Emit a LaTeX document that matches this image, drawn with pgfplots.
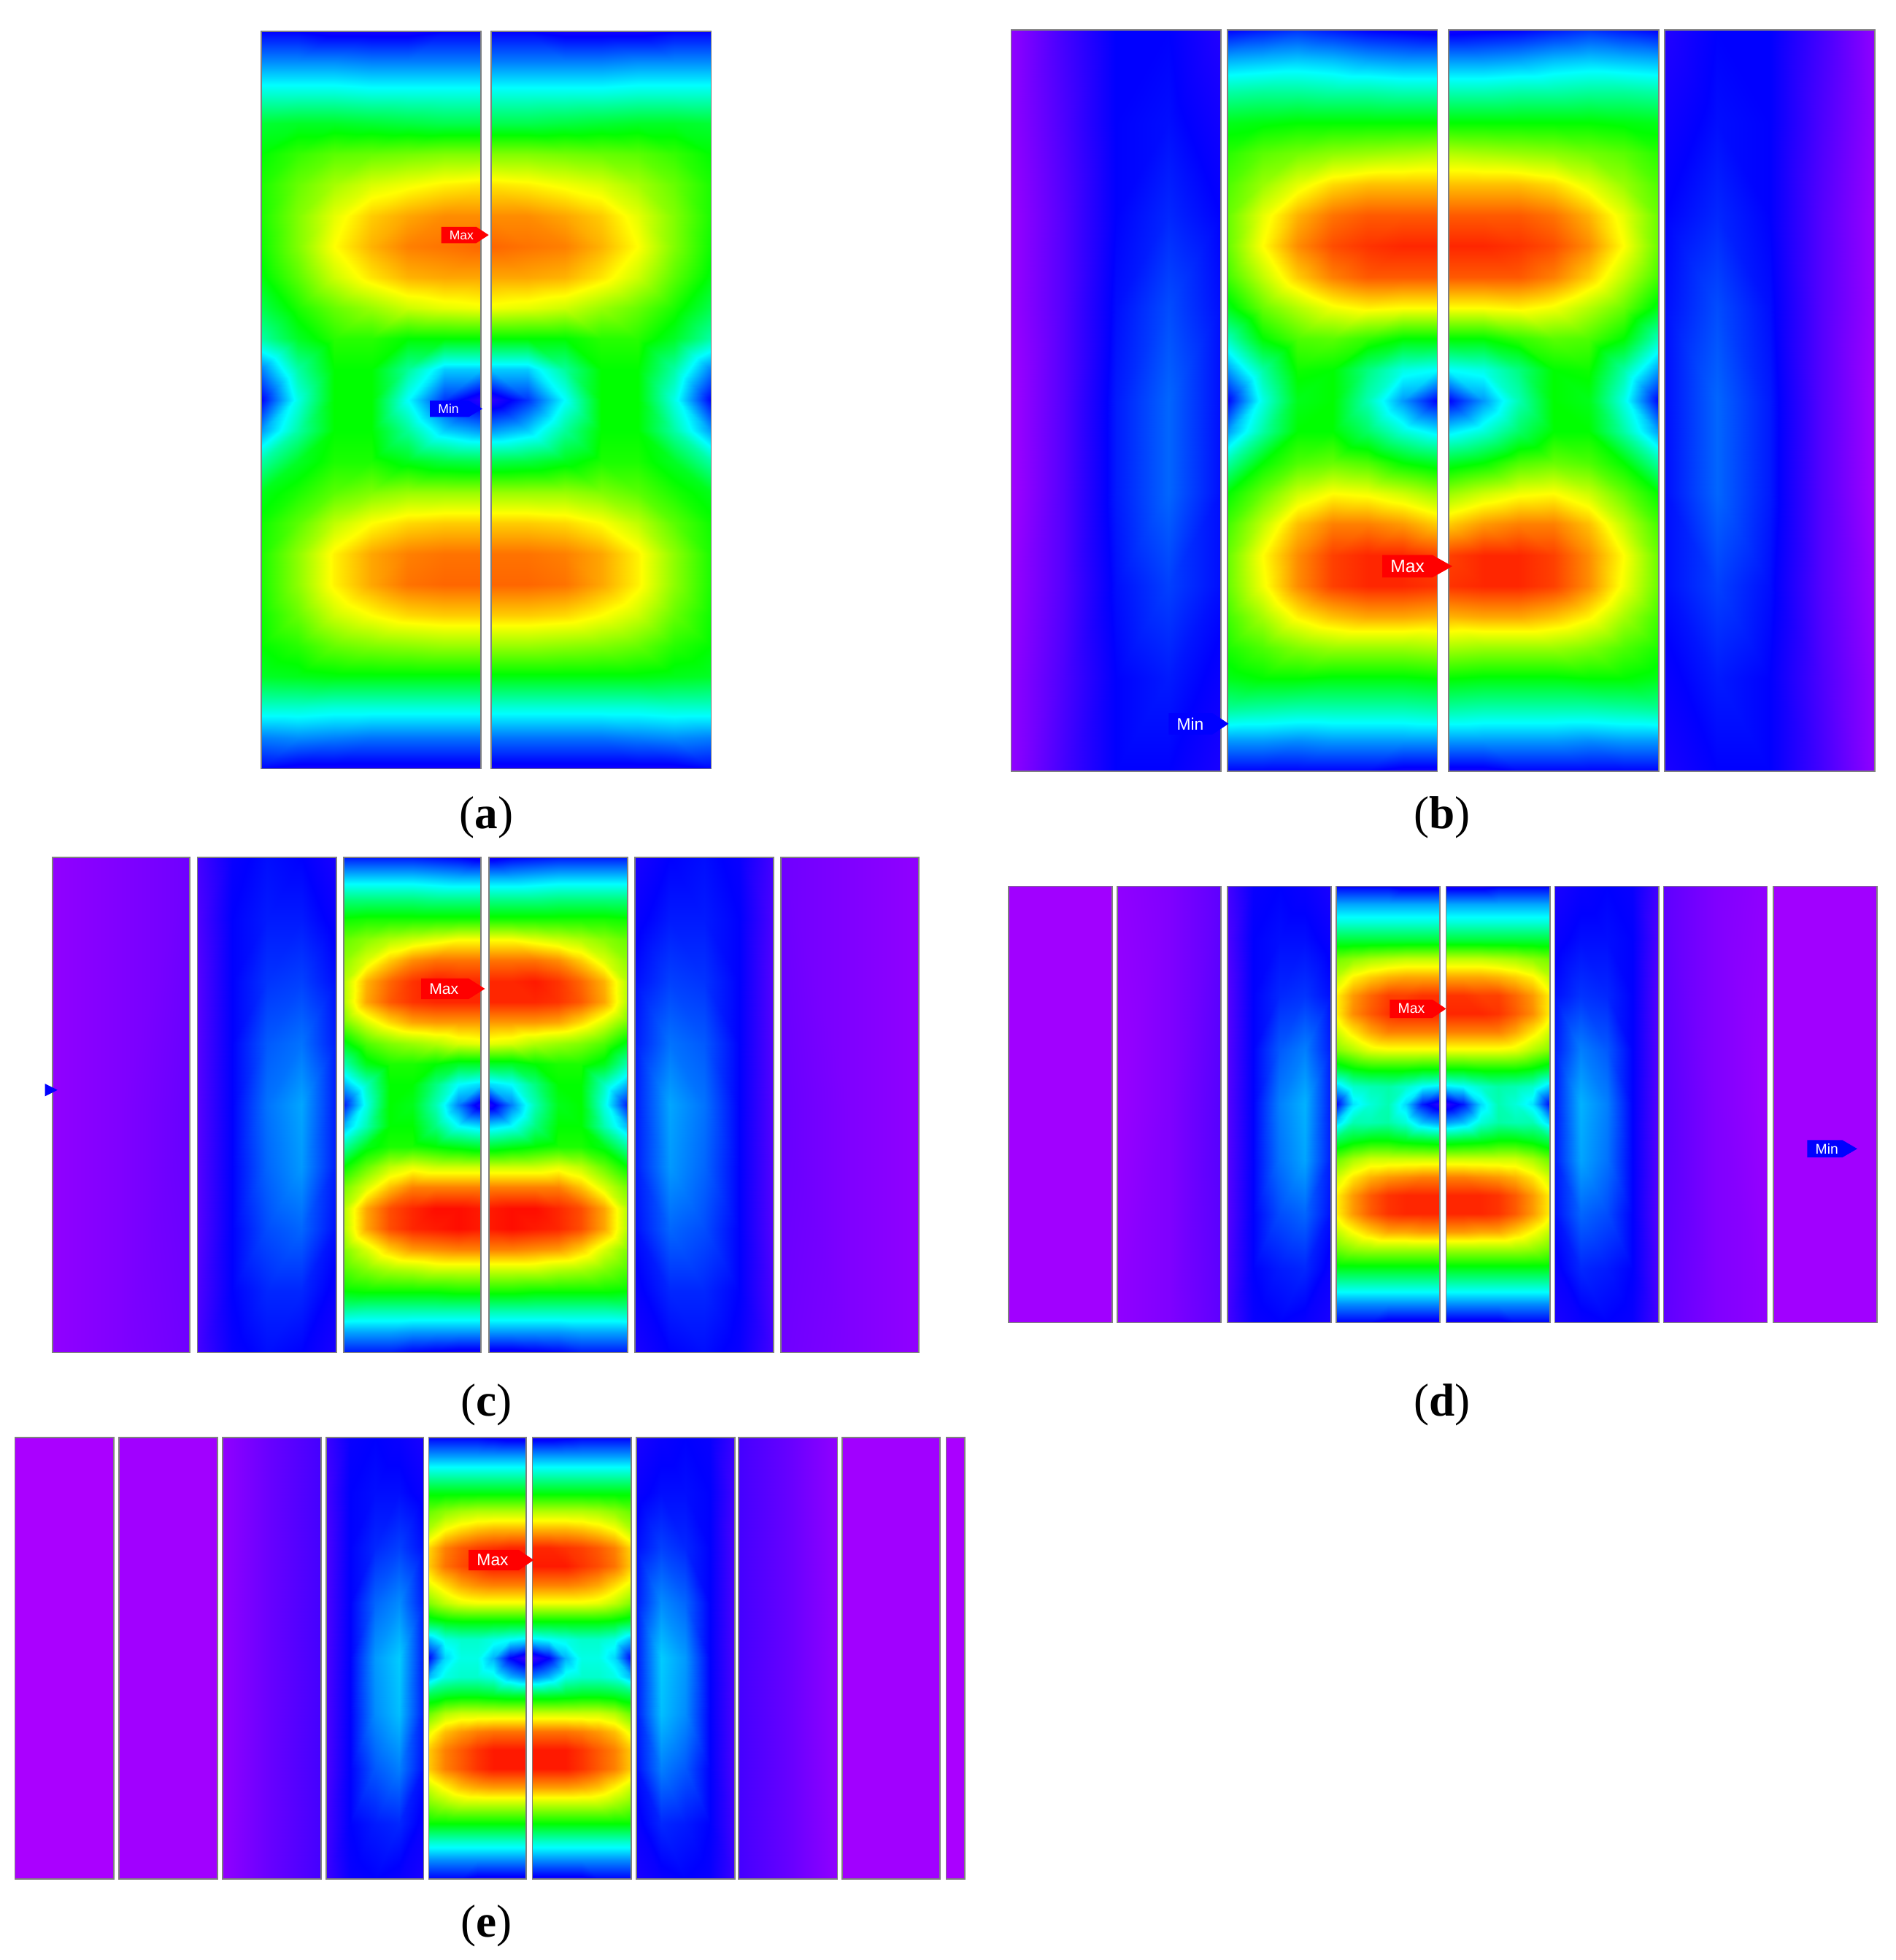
\documentclass[border=0pt]{standalone}
\usepackage{fontspec}
\setmainfont{Liberation Serif}
\newfontfamily\tagfont{Liberation Sans}
\usepackage{pgfplots}
\usepackage{pgfplotstable}
\pgfplotsset{compat=1.18}

% centre plates: 7 columns (outer edge to gap) x 25 rows (top to bottom)
\pgfplotstableread[row sep=crcr]{c\\
.20\\ .20\\ .18\\ .18\\ .18\\ .20\\ .20\\
.31\\ .31\\ .31\\ .30\\ .30\\ .30\\ .30\\
.43\\ .43\\ .43\\ .42\\ .42\\ .42\\ .42\\
.56\\ .57\\ .57\\ .56\\ .55\\ .54\\ .54\\
.60\\ .64\\ .67\\ .68\\ .69\\ .70\\ .70\\
.62\\ .68\\ .73\\ .77\\ .79\\ .81\\ .82\\
.62\\ .70\\ .78\\ .84\\ .87\\ .89\\ .89\\
.61\\ .70\\ .80\\ .86\\ .90\\ .91\\ .92\\
.59\\ .67\\ .76\\ .82\\ .86\\ .87\\ .87\\
.54\\ .62\\ .68\\ .72\\ .76\\ .78\\ .79\\
.47\\ .57\\ .63\\ .63\\ .60\\ .60\\ .60\\
.30\\ .47\\ .60\\ .60\\ .48\\ .36\\ .36\\
.20\\ .42\\ .60\\ .60\\ .40\\ .24\\ .15\\
.32\\ .47\\ .60\\ .60\\ .48\\ .36\\ .32\\
.47\\ .57\\ .62\\ .62\\ .58\\ .55\\ .54\\
.58\\ .62\\ .67\\ .70\\ .72\\ .72\\ .72\\
.61\\ .67\\ .75\\ .80\\ .83\\ .84\\ .84\\
.62\\ .71\\ .81\\ .87\\ .90\\ .91\\ .91\\
.62\\ .71\\ .81\\ .87\\ .91\\ .92\\ .92\\
.61\\ .68\\ .76\\ .80\\ .83\\ .84\\ .84\\
.60\\ .63\\ .68\\ .70\\ .71\\ .72\\ .72\\
.57\\ .58\\ .59\\ .59\\ .59\\ .59\\ .59\\
.44\\ .44\\ .43\\ .43\\ .43\\ .43\\ .43\\
.30\\ .31\\ .30\\ .29\\ .29\\ .29\\ .29\\
.20\\ .18\\ .18\\ .18\\ .18\\ .18\\ .18\\
}\tabA
\pgfplotstableread[row sep=crcr]{c\\
.20\\ .22\\ .24\\ .22\\ .20\\ .19\\ .18\\
.34\\ .35\\ .36\\ .35\\ .33\\ .32\\ .32\\
.47\\ .48\\ .48\\ .47\\ .47\\ .46\\ .46\\
.58\\ .59\\ .60\\ .60\\ .60\\ .60\\ .60\\
.63\\ .67\\ .69\\ .71\\ .72\\ .73\\ .74\\
.66\\ .72\\ .78\\ .83\\ .85\\ .85\\ .85\\
.68\\ .78\\ .86\\ .91\\ .93\\ .93\\ .93\\
.68\\ .80\\ .89\\ .94\\ .96\\ .97\\ .97\\
.65\\ .75\\ .84\\ .90\\ .93\\ .93\\ .93\\
.58\\ .68\\ .74\\ .79\\ .81\\ .80\\ .80\\
.45\\ .60\\ .66\\ .67\\ .64\\ .60\\ .60\\
.32\\ .47\\ .61\\ .60\\ .50\\ .42\\ .40\\
.20\\ .42\\ .58\\ .60\\ .46\\ .32\\ .20\\
.32\\ .47\\ .60\\ .60\\ .52\\ .43\\ .38\\
.47\\ .60\\ .66\\ .68\\ .66\\ .60\\ .57\\
.60\\ .68\\ .76\\ .80\\ .79\\ .76\\ .72\\
.65\\ .75\\ .85\\ .90\\ .90\\ .88\\ .84\\
.68\\ .80\\ .89\\ .95\\ .97\\ .97\\ .95\\
.68\\ .79\\ .89\\ .95\\ .97\\ .97\\ .96\\
.65\\ .73\\ .81\\ .85\\ .87\\ .87\\ .86\\
.62\\ .66\\ .70\\ .72\\ .72\\ .72\\ .73\\
.58\\ .60\\ .60\\ .59\\ .59\\ .59\\ .60\\
.48\\ .47\\ .46\\ .46\\ .46\\ .46\\ .47\\
.32\\ .32\\ .31\\ .32\\ .32\\ .32\\ .32\\
.20\\ .20\\ .20\\ .20\\ .20\\ .18\\ .18\\
}\tabB
\pgfplotstableread[row sep=crcr]{c\\
.22\\ .22\\ .22\\ .22\\ .21\\ .20\\ .18\\
.36\\ .36\\ .36\\ .36\\ .35\\ .34\\ .34\\
.50\\ .50\\ .50\\ .50\\ .49\\ .49\\ .49\\
.61\\ .62\\ .62\\ .62\\ .62\\ .62\\ .62\\
.68\\ .71\\ .74\\ .76\\ .78\\ .80\\ .80\\
.71\\ .77\\ .84\\ .89\\ .91\\ .91\\ .91\\
.74\\ .86\\ .92\\ .96\\ .98\\ .97\\ .97\\
.74\\ .87\\ .93\\ .96\\ .97\\ .97\\ .97\\
.69\\ .77\\ .83\\ .87\\ .88\\ .88\\ .88\\
.58\\ .66\\ .70\\ .72\\ .74\\ .77\\ .78\\
.46\\ .58\\ .62\\ .62\\ .60\\ .57\\ .57\\
.34\\ .45\\ .60\\ .60\\ .50\\ .40\\ .37\\
.22\\ .42\\ .60\\ .58\\ .46\\ .30\\ .16\\
.34\\ .46\\ .60\\ .60\\ .50\\ .40\\ .37\\
.47\\ .58\\ .62\\ .62\\ .60\\ .58\\ .56\\
.60\\ .68\\ .75\\ .78\\ .76\\ .76\\ .76\\
.69\\ .77\\ .85\\ .90\\ .90\\ .90\\ .90\\
.74\\ .87\\ .94\\ .97\\ .99\\ .99\\ .98\\
.74\\ .87\\ .94\\ .97\\ .98\\ .99\\ .98\\
.70\\ .77\\ .84\\ .88\\ .89\\ .90\\ .90\\
.66\\ .70\\ .73\\ .74\\ .76\\ .76\\ .76\\
.60\\ .61\\ .61\\ .61\\ .61\\ .62\\ .62\\
.47\\ .46\\ .46\\ .46\\ .46\\ .46\\ .46\\
.33\\ .33\\ .33\\ .32\\ .32\\ .32\\ .32\\
.22\\ .22\\ .22\\ .20\\ .19\\ .18\\ .18\\
}\tabC
\pgfplotstableread[row sep=crcr]{c\\
.20\\ .20\\ .20\\ .20\\ .18\\ .18\\ .18\\
.33\\ .33\\ .33\\ .33\\ .33\\ .33\\ .33\\
.43\\ .43\\ .43\\ .43\\ .43\\ .43\\ .43\\
.56\\ .56\\ .56\\ .56\\ .56\\ .56\\ .56\\
.69\\ .71\\ .73\\ .74\\ .75\\ .75\\ .75\\
.75\\ .81\\ .84\\ .86\\ .87\\ .87\\ .87\\
.81\\ .88\\ .92\\ .95\\ .95\\ .96\\ .96\\
.81\\ .89\\ .93\\ .96\\ .97\\ .97\\ .97\\
.76\\ .82\\ .87\\ .90\\ .90\\ .90\\ .90\\
.70\\ .74\\ .78\\ .79\\ .79\\ .79\\ .79\\
.56\\ .60\\ .62\\ .62\\ .62\\ .61\\ .61\\
.36\\ .44\\ .46\\ .47\\ .44\\ .40\\ .38\\
.20\\ .38\\ .43\\ .46\\ .37\\ .22\\ .15\\
.36\\ .46\\ .46\\ .47\\ .43\\ .35\\ .32\\
.54\\ .58\\ .60\\ .60\\ .58\\ .57\\ .56\\
.68\\ .73\\ .76\\ .76\\ .76\\ .76\\ .76\\
.76\\ .82\\ .86\\ .88\\ .89\\ .90\\ .90\\
.81\\ .88\\ .93\\ .96\\ .97\\ .97\\ .97\\
.81\\ .88\\ .93\\ .96\\ .97\\ .97\\ .97\\
.75\\ .80\\ .84\\ .87\\ .87\\ .88\\ .88\\
.68\\ .71\\ .72\\ .72\\ .72\\ .72\\ .72\\
.58\\ .58\\ .58\\ .58\\ .58\\ .58\\ .58\\
.44\\ .44\\ .44\\ .44\\ .44\\ .44\\ .44\\
.31\\ .31\\ .31\\ .31\\ .31\\ .31\\ .31\\
.20\\ .20\\ .20\\ .18\\ .18\\ .18\\ .18\\
}\tabD
\pgfplotstableread[row sep=crcr]{c\\
.20\\ .20\\ .20\\ .20\\ .19\\ .18\\ .18\\
.32\\ .32\\ .32\\ .32\\ .32\\ .32\\ .32\\
.45\\ .45\\ .45\\ .45\\ .45\\ .45\\ .45\\
.59\\ .59\\ .59\\ .59\\ .59\\ .59\\ .59\\
.68\\ .71\\ .73\\ .74\\ .74\\ .74\\ .74\\
.74\\ .80\\ .83\\ .85\\ .86\\ .86\\ .86\\
.83\\ .90\\ .93\\ .95\\ .96\\ .97\\ .97\\
.84\\ .91\\ .94\\ .96\\ .98\\ .98\\ .98\\
.78\\ .83\\ .87\\ .89\\ .90\\ .90\\ .90\\
.70\\ .75\\ .78\\ .79\\ .79\\ .79\\ .79\\
.56\\ .59\\ .60\\ .60\\ .60\\ .60\\ .60\\
.34\\ .42\\ .44\\ .44\\ .42\\ .40\\ .38\\
.20\\ .37\\ .42\\ .42\\ .34\\ .20\\ .14\\
.34\\ .42\\ .44\\ .44\\ .42\\ .34\\ .30\\
.54\\ .57\\ .58\\ .58\\ .57\\ .56\\ .56\\
.68\\ .74\\ .76\\ .76\\ .76\\ .76\\ .76\\
.78\\ .85\\ .88\\ .90\\ .91\\ .91\\ .91\\
.84\\ .90\\ .93\\ .96\\ .98\\ .98\\ .98\\
.84\\ .90\\ .93\\ .96\\ .98\\ .98\\ .98\\
.76\\ .81\\ .85\\ .87\\ .88\\ .88\\ .88\\
.69\\ .72\\ .74\\ .74\\ .74\\ .74\\ .74\\
.60\\ .60\\ .60\\ .60\\ .60\\ .60\\ .60\\
.44\\ .44\\ .44\\ .44\\ .44\\ .44\\ .44\\
.31\\ .31\\ .31\\ .31\\ .31\\ .31\\ .31\\
.20\\ .20\\ .20\\ .18\\ .18\\ .18\\ .18\\
}\tabE

% plates next to the centre pair: 5 columns x 9 rows
\pgfplotstableread[row sep=crcr]{c\\
.03\\ .12\\ .20\\ .20\\ .16\\
.03\\ .11\\ .20\\ .21\\ .18\\
.02\\ .10\\ .20\\ .23\\ .20\\
.02\\ .10\\ .21\\ .26\\ .21\\
.01\\ .10\\ .22\\ .28\\ .21\\
.01\\ .10\\ .22\\ .28\\ .21\\
.02\\ .10\\ .21\\ .25\\ .21\\
.03\\ .11\\ .20\\ .22\\ .19\\
.03\\ .12\\ .20\\ .20\\ .17\\
}\adjB
\pgfplotstableread[row sep=crcr]{c\\
.12\\ .19\\ .21\\ .20\\ .17\\
.11\\ .20\\ .22\\ .22\\ .19\\
.10\\ .20\\ .24\\ .25\\ .21\\
.10\\ .20\\ .27\\ .29\\ .22\\
.10\\ .20\\ .29\\ .33\\ .22\\
.10\\ .20\\ .28\\ .32\\ .22\\
.10\\ .20\\ .26\\ .28\\ .21\\
.11\\ .20\\ .23\\ .23\\ .19\\
.12\\ .19\\ .21\\ .20\\ .17\\
}\adjC
\pgfplotstableread[row sep=crcr]{c\\
.12\\ .19\\ .20\\ .19\\ .17\\
.11\\ .20\\ .21\\ .21\\ .19\\
.10\\ .20\\ .23\\ .24\\ .21\\
.10\\ .20\\ .27\\ .30\\ .22\\
.10\\ .20\\ .30\\ .34\\ .22\\
.10\\ .20\\ .29\\ .33\\ .22\\
.10\\ .20\\ .26\\ .28\\ .21\\
.11\\ .20\\ .22\\ .23\\ .19\\
.12\\ .19\\ .20\\ .19\\ .17\\
}\adjD
\pgfplotstableread[row sep=crcr]{c\\
.13\\ .19\\ .20\\ .19\\ .17\\
.12\\ .20\\ .21\\ .21\\ .19\\
.11\\ .20\\ .23\\ .25\\ .21\\
.11\\ .20\\ .28\\ .31\\ .22\\
.11\\ .20\\ .32\\ .36\\ .22\\
.11\\ .20\\ .31\\ .35\\ .22\\
.11\\ .20\\ .27\\ .30\\ .21\\
.12\\ .20\\ .22\\ .23\\ .19\\
.13\\ .19\\ .20\\ .19\\ .17\\
}\adjE

% far plates: 3 columns x 3 rows
\pgfplotstableread[row sep=crcr]{c\\
.03\\ .05\\ .07\\ .03\\ .05\\ .08\\ .03\\ .05\\ .07\\
}\farC
\pgfplotstableread[row sep=crcr]{c\\
.03\\ .05\\ .09\\ .02\\ .05\\ .10\\ .03\\ .05\\ .09\\
}\farD
\pgfplotstableread[row sep=crcr]{c\\
.03\\ .08\\ .12\\ .03\\ .08\\ .12\\ .03\\ .08\\ .12\\
}\farE
\pgfplotstableread[row sep=crcr]{c\\
.01\\ .01\\ .01\\ .01\\ .01\\ .01\\ .01\\ .01\\ .01\\
}\farOut
\pgfplotstableread[row sep=crcr]{c\\
.00\\ .00\\ .00\\ .00\\ .00\\ .00\\ .00\\ .00\\ .00\\
}\farEnd

% #1 outer x, #2 inner x, #3 top, #4 bottom, #5 columns, #6 rows, #7 table
\newcommand{\plate}[7]{%
  \addplot[surf, shader=interp, mesh/cols=#5, point meta=\thisrow{c}]
    table[x index=0, y index=0,
          x expr={#1+(#2-#1)*(\coordindex-#5*floor((\coordindex+0.5)/#5))/(#5-1)},
          y expr={#3+(#4-#3)*floor((\coordindex+0.5)/#5)/(#6-1)}] {#7};
  \draw[plateline] (axis cs:#1,#3) rectangle (axis cs:#2,#4);
}
% #1 colour, #2 left, #3 end of box, #4 tip, #5 y, #6 half height, #7 size, #8 text
\newcommand{\pointer}[8]{%
  \fill[#1] ([yshift=#6]axis cs:#2,#5) -- ([yshift=#6]axis cs:#3,#5)
    -- (axis cs:#4,#5) -- ([yshift=-#6]axis cs:#3,#5)
    -- ([yshift=-#6]axis cs:#2,#5) -- cycle;
  \node[anchor=west, text=white, inner sep=0pt, font=\tagfont\fontsize{#7}{#7}\selectfont]
    at ([xshift=3pt]axis cs:#2,#5) {#8};
}
\newcommand{\sublabel}[3]{%
  \node[font=\fontsize{18}{20}\selectfont, inner sep=0pt] at (axis cs:#1,#2) {(\textbf{#3})};
}
\tikzset{plateline/.style={draw=black!50, line width=0.5pt}}

\begin{document}
\begin{tikzpicture}
\begin{axis}[
  scale only axis, width=25.98cm, height=26.86cm,
  xmin=0, xmax=1517, ymin=0, ymax=1568, y dir=reverse,
  hide axis, clip=false,
  point meta min=0, point meta max=1,
  colormap={fem}{rgb255(0)=(170,0,255) rgb255(2)=(0,0,255) rgb255(4)=(0,255,255)
                 rgb255(6)=(0,255,0) rgb255(8)=(255,255,0) rgb255(10)=(255,0,0)},
]
% (a)
\plate{209}{385}{25}{615}{7}{25}{\tabA}
\plate{569}{393}{25}{615}{7}{25}{\tabA}
\pointer{red}{353}{381}{391}{188}{3.2pt}{5}{Max}
\pointer{blue}{344}{375}{386}{327}{3.2pt}{5}{Min}
\sublabel{389}{654}{a}
% (b)
\plate{809}{977}{24}{617}{5}{9}{\adjB}
\plate{982}{1150}{24}{617}{7}{25}{\tabB}
\plate{1327}{1159}{24}{617}{7}{25}{\tabB}
\plate{1500}{1332}{24}{617}{5}{9}{\adjB}
\pointer{red}{1106}{1146}{1162}{453}{4.4pt}{7}{Max}
\pointer{blue}{935}{970}{983}{579}{4.2pt}{6.5}{Min}
\sublabel{1154}{654}{b}
% (c)
\plate{42}{152}{686}{1082}{3}{3}{\farC}
\plate{158}{269}{686}{1082}{5}{9}{\adjC}
\plate{275}{385}{686}{1082}{7}{25}{\tabC}
\plate{502}{391}{686}{1082}{7}{25}{\tabC}
\plate{619}{508}{686}{1082}{5}{9}{\adjC}
\plate{735}{625}{686}{1082}{3}{3}{\farC}
\pointer{red}{337}{375}{388}{791}{4pt}{6}{Max}
\fill[blue] (axis cs:36,867) -- (axis cs:40,869) -- (axis cs:46,872) -- (axis cs:40,875) -- (axis cs:36,877) -- cycle;
\sublabel{389}{1124}{c}
% (d)
\plate{807}{890}{709}{1058}{3}{3}{\farOut}
\plate{894}{977}{709}{1058}{3}{3}{\farD}
\plate{982}{1065}{709}{1058}{5}{9}{\adjD}
\plate{1069}{1152}{709}{1058}{7}{25}{\tabD}
\plate{1240}{1157}{709}{1058}{7}{25}{\tabD}
\plate{1327}{1244}{709}{1058}{5}{9}{\adjD}
\plate{1414}{1331}{709}{1058}{3}{3}{\farD}
\plate{1502}{1419}{709}{1058}{3}{3}{\farOut}
\pointer{red}{1112}{1146}{1157}{807}{3.6pt}{5.5}{Max}
\pointer{blue}{1446}{1474}{1486}{919}{3.4pt}{5.5}{Min}
\sublabel{1154}{1124}{d}
% (e)
\plate{12}{91}{1150}{1503}{3}{3}{\farEnd}
\plate{95}{174}{1150}{1503}{3}{3}{\farOut}
\plate{178}{257}{1150}{1503}{3}{3}{\farE}
\plate{261}{339}{1150}{1503}{5}{9}{\adjE}
\plate{343}{421}{1150}{1503}{7}{25}{\tabE}
\plate{505}{426}{1150}{1503}{7}{25}{\tabE}
\plate{588}{509}{1150}{1503}{5}{9}{\adjE}
\plate{670}{591}{1150}{1503}{3}{3}{\farE}
\plate{752}{674}{1150}{1503}{3}{3}{\farOut}
\plate{772}{757}{1150}{1503}{3}{3}{\farEnd}
\pointer{red}{375}{415}{427}{1248}{4pt}{6.5}{Max}
\sublabel{389}{1541}{e}
\end{axis}
\path (0,0) rectangle (25.98cm,26.86cm);
\end{tikzpicture}
\end{document}
